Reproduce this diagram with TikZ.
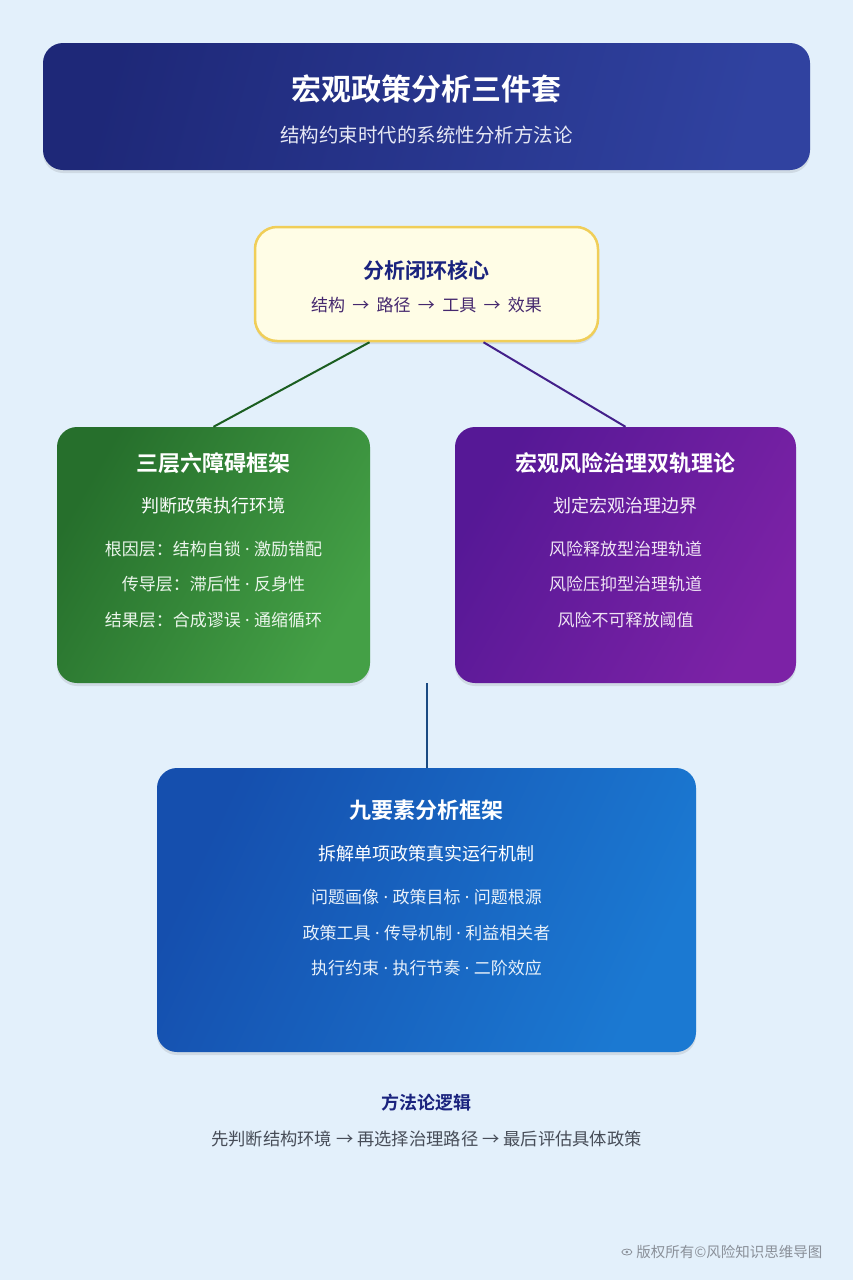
\documentclass[tikz,border=0pt]{standalone}
\usepackage{fontspec}
\setmainfont{Noto Sans CJK SC}[BoldFont={Noto Sans CJK SC Bold}]
\newfontfamily\latinfont{Noto Sans}
\usepackage{xcolor}
\usetikzlibrary{shadows, calc}

\newcommand{\middot}{{\latinfont\ ·\ }}
\newcommand{\flowarrow}{\ \hspace{3.5pt}→\hspace{3.5pt}\ }

\definecolor{pagebg}{HTML}{E3F0FB}
\definecolor{hdrA}{HTML}{1E2878}
\definecolor{hdrB}{HTML}{3042A0}
\definecolor{coreFill}{HTML}{FFFDE6}
\definecolor{coreEdge}{HTML}{F0CE58}
\definecolor{navyText}{HTML}{1A237E}
\definecolor{flowText}{HTML}{45286E}
\definecolor{grnA}{HTML}{266F2C}
\definecolor{grnB}{HTML}{44A046}
\definecolor{grnLine}{HTML}{1B5E20}
\definecolor{purA}{HTML}{561896}
\definecolor{purB}{HTML}{7C22A6}
\definecolor{purLine}{HTML}{43208A}
\definecolor{bluA}{HTML}{154FAE}
\definecolor{bluB}{HTML}{1B79D2}
\definecolor{bluLine}{HTML}{1A4A82}
\definecolor{grayText}{HTML}{474D58}
\definecolor{markText}{HTML}{8A9099}

\begin{document}
\begin{tikzpicture}[x=1pt, y=-1pt,
  card/.style={rounded corners=20pt, inner sep=0pt,
    drop shadow={shadow xshift=0pt, shadow yshift=-3pt, opacity=0.13, fill=black!70}},
  boxtitle/.style={font=\fontsize{22}{26}\selectfont\bfseries, text=white},
  boxsub/.style={font=\fontsize{18}{22}\selectfont, text=white},
  boxline/.style={font=\fontsize{17}{21}\selectfont, text=#1},
  link/.style={line width=2pt}]

\useasboundingbox (0,0) rectangle (853,1280);
\fill[pagebg] (0,0) rectangle (853,1280);

% header
\node[card, minimum width=767pt, minimum height=127pt,
  left color=hdrA, right color=hdrB, shading angle=75] (header) at (426.5,106.5) {};
\node[font=\fontsize{30}{36}\selectfont\bfseries, text=white] (maintitle) at (426.5,89) {宏观政策分析三件套};
\node[font=\fontsize{19.5}{24}\selectfont, text=white!88!hdrB] (subtitle) at (426.5,135) {结构约束时代的系统性分析方法论};

% core of the loop
\node[card, minimum width=343pt, minimum height=114pt, rounded corners=22pt,
  fill=coreFill, draw=coreEdge, line width=2.5pt] (core) at (426.5,284) {};
\node[font=\fontsize{21}{25}\selectfont\bfseries, text=navyText] (coretitle) at (426.5,270) {分析闭环核心};
\node[boxline=flowText] (coreflow) at (426.5,305) {结构\flowarrow 路径\flowarrow 工具\flowarrow 效果};

% three layers, six barriers
\node[card, minimum width=313pt, minimum height=256pt,
  left color=grnA, right color=grnB, shading angle=60] (green) at (213.5,555) {};
\node[boxtitle] (gtitle) at (213.5,463) {三层六障碍框架};
\node[boxsub] (gsub) at (213.5,506) {判断政策执行环境};
\node[boxline=white!90!grnB] (g1) at (213.5,549) {根因层：结构自锁\middot 激励错配};
\node[boxline=white!90!grnB] (g2) at (213.5,584) {传导层：滞后性\middot 反身性};
\node[boxline=white!90!grnB] (g3) at (213.5,620) {结果层：合成谬误\middot 通缩循环};

% dual-track theory
\node[card, minimum width=341pt, minimum height=256pt,
  left color=purA, right color=purB, shading angle=60] (purple) at (625.5,555) {};
\node[boxtitle] (ptitle) at (625.5,463) {宏观风险治理双轨理论};
\node[boxsub, text=white!92!purB] (psub) at (625.5,506) {划定宏观治理边界};
\node[boxline=white!88!purB] (p1) at (625.5,549) {风险释放型治理轨道};
\node[boxline=white!88!purB] (p2) at (625.5,584) {风险压抑型治理轨道};
\node[boxline=white!88!purB] (p3) at (625.5,620) {风险不可释放阈值};

% nine elements
\node[card, minimum width=539pt, minimum height=284pt,
  left color=bluA, right color=bluB, shading angle=65] (blue) at (426.5,910) {};
\node[boxtitle] (btitle) at (426.5,810) {九要素分析框架};
\node[boxsub] (bsub) at (426.5,854) {拆解单项政策真实运行机制};
\node[boxline=white!90!bluB] (b1) at (426.5,897) {问题画像\middot 政策目标\middot 问题根源};
\node[boxline=white!90!bluB] (b2) at (426.5,933) {政策工具\middot 传导机制\middot 利益相关者};
\node[boxline=white!90!bluB] (b3) at (426.5,968) {执行约束\middot 执行节奏\middot 二阶效应};

% connectors
\draw[link, grnLine] ([xshift=-57pt]core.south) -- (green.north);
\draw[link, purLine] ([xshift=57pt]core.south) -- (purple.north);
\draw[link, bluLine] (blue.north |- green.south) -- (blue.north);

% method logic
\node[font=\fontsize{18}{22}\selectfont\bfseries, text=navyText] (logictitle) at (426.5,1103) {方法论逻辑};
\node[font=\fontsize{17.3}{21}\selectfont, text=grayText] (logicline) at (426.5,1139) {先判断结构环境 → 再选择治理路径 → 最后评估具体政策};

% watermark
\node[font=\fontsize{14.5}{18}\selectfont, text=markText, anchor=east] (mark) at (826,1252) {版权所有©风险知识思维导图};
\draw[markText, line width=0.8pt] ($(mark.west)+(-6,0)$) ellipse (5 and 3);
\fill[markText] ($(mark.west)+(-6,0)$) circle (1.4);

\end{tikzpicture}
\end{document}
